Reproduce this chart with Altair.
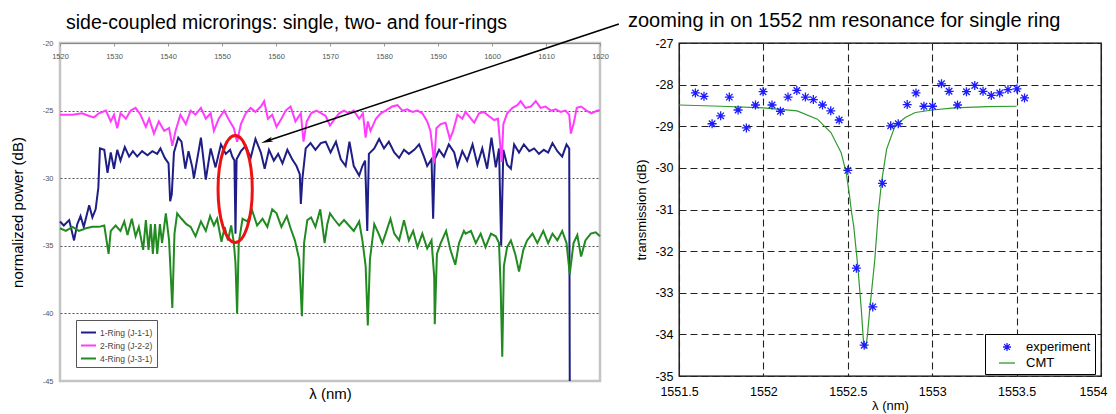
import altair as alt
import pandas as pd

# ---------------- left panel: transmission spectra ----------------
ring_names = ["1-Ring (J-1-1)", "2-Ring (J-2-2)", "4-Ring (J-3-1)"]
ring_colors = ["#1e1e86", "#ff3cff", "#218a21"]

r1_wl = [1520, 1520.7, 1521.7, 1522.6, 1523.2, 1523.8, 1524.4, 1525.4, 1526.0, 1526.6, 1527.1, 1527.4,
         1528.2, 1528.8, 1529.4, 1530.0, 1530.6, 1531.2, 1532.0, 1532.8, 1533.5, 1534.3, 1535.2, 1536.2,
         1537.1, 1538.0, 1538.6, 1539.4, 1540.1, 1540.4, 1540.7, 1541.1, 1541.9, 1542.5, 1543.2, 1543.8,
         1544.5, 1544.8, 1546.1, 1547.0, 1547.9, 1548.8, 1549.8, 1550.7, 1551.5, 1551.9, 1552.3, 1552.5,
         1552.7, 1553.5, 1554.4, 1555.3, 1556.2, 1557.2, 1557.9, 1558.7, 1559.6, 1560.4, 1561.2, 1562.1,
         1563.0, 1563.8, 1564.4, 1564.6, 1564.9, 1565.5, 1566.4, 1567.3, 1568.3, 1569.2, 1570.1, 1571.1,
         1572.0, 1572.9, 1573.6, 1574.4, 1575.4, 1576.0, 1576.5, 1576.9, 1577.2, 1578.2, 1579.1, 1580.0,
         1580.9, 1581.9, 1582.8, 1583.7, 1584.6, 1585.6, 1586.5, 1587.4, 1588.0, 1588.8, 1589.1, 1589.4,
         1590.2, 1591.1, 1592.0, 1593.0, 1593.6, 1594.5, 1595.4, 1596.4, 1597.3, 1598.2, 1599.1, 1599.9,
         1600.7, 1601.3, 1601.7, 1602.1, 1602.8, 1603.5, 1604.1, 1605.0, 1605.9, 1606.9, 1607.8, 1608.7,
         1609.6, 1610.4, 1611.2, 1612.1, 1613.0, 1613.8, 1614.3, 1614.4]
r1_db = [-33.2, -33.5, -33.1, -34.6, -33.4, -32.8, -33.6, -32.0, -32.9, -32.3, -30.7, -27.8,
         -27.9, -29.6, -28.1, -29.3, -27.9, -28.7, -27.7, -28.4, -28.0, -28.4, -28.0, -28.3,
         -28.0, -28.2, -27.8, -28.5, -28.9, -31.7, -31.2, -28.1, -27.0, -27.3, -29.3, -28.0,
         -29.2, -30.0, -27.0, -30.1, -27.8, -29.2, -27.5, -28.2, -27.9, -28.4, -28.7, -34.1,
         -28.6, -28.0, -27.6, -28.5, -27.1, -28.1, -29.3, -27.9, -28.7, -28.2, -28.9, -27.9,
         -28.6, -29.1, -29.7, -31.9, -30.0, -27.8, -27.4, -27.9, -27.4, -27.3, -28.1, -27.3,
         -28.6, -29.1, -27.3, -29.1, -29.8, -29.1, -28.7, -33.9, -28.2, -27.8, -27.1, -27.8,
         -27.3, -28.1, -28.5, -27.9, -28.2, -27.9, -27.5, -28.4, -29.1, -28.6, -33.0, -28.6,
         -27.9, -28.4, -27.5, -28.1, -29.1, -28.0, -28.7, -27.5, -29.0, -27.8, -29.3, -27.0,
         -29.2, -27.8, -35.0, -27.9, -29.0, -29.3, -27.5, -28.1, -27.5, -28.0, -27.8, -28.2,
         -27.9, -28.1, -27.4, -28.0, -28.4, -27.5, -27.8, -45.0]

r2_wl = [1520, 1522.3, 1524.1, 1525.4, 1526.3, 1527.2, 1528.5, 1529.4, 1530.0, 1530.6, 1531.2, 1532.2,
         1533.1, 1534.0, 1534.9, 1535.9, 1536.5, 1537.4, 1538.3, 1539.3, 1540.2, 1540.8, 1541.4, 1542.3,
         1543.3, 1544.2, 1545.1, 1546.1, 1547.0, 1547.9, 1548.5, 1549.4, 1550.4, 1551.3, 1552.2, 1552.8,
         1553.5, 1554.4, 1555.3, 1556.2, 1557.2, 1557.8, 1558.5, 1559.3, 1560.1, 1561.0, 1561.8, 1562.7,
         1563.6, 1564.6, 1565.1, 1565.7, 1566.5, 1567.5, 1568.4, 1569.2, 1570.0, 1570.7, 1571.7, 1572.6,
         1573.5, 1574.4, 1575.4, 1576.1, 1576.6, 1577.0, 1577.5, 1578.5, 1579.4, 1580.3, 1581.5, 1582.5,
         1583.4, 1584.3, 1585.3, 1586.2, 1587.1, 1588.0, 1588.6, 1589.3, 1589.7, 1590.5, 1591.4, 1592.2,
         1592.8, 1593.6, 1594.5, 1595.1, 1596.1, 1596.7, 1597.6, 1598.5, 1599.4, 1600.4, 1601.1, 1601.8,
         1602.1, 1602.8, 1603.8, 1604.7, 1605.3, 1606.2, 1607.2, 1608.1, 1609.0, 1609.9, 1610.9, 1611.8,
         1612.7, 1613.6, 1614.3, 1614.6, 1615.1, 1615.7, 1616.5, 1617.5, 1618.4, 1619.5, 1620]
r2_db = [-25.3, -25.3, -25.2, -25.4, -25.5, -25.2, -25.0, -25.8, -25.3, -26.3, -25.2, -25.6,
         -25.0, -24.8, -25.3, -26.2, -25.6, -26.7, -25.8, -26.5, -26.3, -27.6, -26.5, -25.3,
         -26.0, -25.0, -25.3, -24.8, -25.6, -25.2, -26.5, -25.6, -25.0, -25.7, -26.3, -27.3,
         -26.0, -25.2, -24.8, -25.1, -24.7, -24.3, -25.6, -25.3, -26.2, -25.6, -25.0, -24.7,
         -25.8, -25.2, -27.3, -25.8, -25.2, -25.0, -25.2, -25.4, -26.1, -25.7, -25.2, -25.0,
         -25.2, -25.0, -25.6, -25.2, -27.0, -25.8, -26.5, -25.6, -25.2, -25.0, -24.7, -24.6,
         -25.0, -24.9, -25.1, -25.0, -25.2, -25.8, -26.5, -28.9, -26.3, -26.0, -25.9, -27.1,
         -26.5, -25.3, -25.6, -25.1, -25.6, -25.9, -25.2, -25.1, -25.4, -25.7, -25.6, -28.8,
         -26.0, -25.2, -24.8, -24.6, -24.3, -24.8, -24.7, -24.3, -24.8, -24.7, -25.0, -24.9,
         -25.1, -25.0, -25.3, -26.7, -26.0, -24.8, -24.7, -25.0, -25.2, -25.0, -25.0]

r4_wl = [1520, 1521.1, 1522.3, 1523.5, 1524.8, 1526.0, 1527.2, 1528.2, 1529.0, 1529.4, 1530.3, 1531.2,
         1531.9, 1532.5, 1533.3, 1534.0, 1534.6, 1535.4, 1535.9, 1536.4, 1536.8, 1537.2, 1537.6, 1538.0,
         1538.5, 1538.9, 1539.6, 1540.2, 1540.8, 1541.2, 1541.7, 1542.5, 1543.4, 1544.2, 1545.1, 1546.1,
         1547.0, 1547.8, 1548.5, 1549.1, 1549.9, 1550.5, 1551.1, 1551.7, 1552.2, 1552.5, 1552.8, 1553.1,
         1553.8, 1554.7, 1555.6, 1556.5, 1557.5, 1558.4, 1559.3, 1560.1, 1561.0, 1562.0, 1562.7, 1563.5,
         1564.3, 1564.8, 1565.2, 1565.8, 1566.5, 1567.3, 1568.2, 1569.0, 1569.5, 1570.0, 1570.7, 1571.7,
         1572.6, 1573.5, 1574.4, 1575.4, 1576.0, 1576.6, 1577.0, 1577.4, 1578.2, 1579.0, 1579.7, 1580.3,
         1581.2, 1581.9, 1582.8, 1583.7, 1584.6, 1585.4, 1586.2, 1587.1, 1588.0, 1588.8, 1589.3, 1589.4,
         1589.8, 1590.5, 1591.5, 1592.3, 1593.2, 1593.9, 1594.8, 1595.1, 1596.1, 1597.0, 1597.9, 1598.8,
         1599.8, 1600.7, 1601.3, 1601.6, 1601.9, 1602.2, 1602.8, 1603.5, 1604.3, 1605.0, 1605.8, 1606.5,
         1607.5, 1608.4, 1609.5, 1610.4, 1611.2, 1612.1, 1613.0, 1613.8, 1614.4, 1615.1, 1615.8, 1616.5,
         1617.3, 1618.3, 1619.2, 1620]
r4_db = [-33.7, -33.9, -33.6, -33.9, -33.7, -33.6, -33.6, -33.5, -35.6, -33.9, -33.5, -33.9,
         -33.2, -34.2, -33.0, -34.3, -33.6, -35.3, -33.1, -35.3, -33.4, -35.6, -33.4, -35.6,
         -33.4, -34.8, -32.6, -34.6, -39.6, -34.1, -32.6, -33.0, -33.4, -33.6, -34.3, -33.2,
         -33.9, -32.8, -33.5, -33.0, -34.7, -33.6, -34.6, -33.5, -34.8, -36.3, -40.0, -34.8,
         -33.0, -33.2, -32.4, -33.5, -33.0, -33.6, -32.3, -32.6, -33.6, -32.8, -33.7, -34.6,
         -36.0, -40.2, -34.8, -33.1, -32.9, -33.6, -32.3, -34.8, -33.4, -32.6, -33.0, -33.5,
         -33.1, -33.5, -33.9, -33.2, -34.6, -36.5, -40.9, -36.0, -33.4, -34.1, -34.8, -34.1,
         -33.0, -34.1, -34.6, -33.1, -34.6, -33.9, -35.1, -34.1, -35.2, -34.6, -37.3, -40.8,
         -35.6, -34.8, -33.9, -35.3, -36.4, -34.8, -33.9, -34.1, -33.9, -34.8, -34.1, -35.1,
         -34.1, -34.3, -34.8, -38.0, -43.2, -36.5, -35.1, -34.6, -35.6, -36.9, -35.3, -34.6,
         -34.1, -34.8, -33.9, -34.8, -34.1, -34.6, -33.9, -34.8, -37.1, -34.8, -34.2, -35.8,
         -34.6, -34.1, -34.0, -34.3]

# annotations (data coordinates of the left panel)
ellipse_wl = [1552.44]
ellipse_db = [-30.8]
arrow_from_wl = [1623.5]
arrow_from_db = [-18.6]
arrow_to_wl = [1558.3]
arrow_to_db = [-27.25]

# ---------------- right panel: zoom on 1552 nm resonance ----------------
exp_wl = [1551.597, 1551.648, 1551.696, 1551.747, 1551.798, 1551.850, 1551.899, 1551.953, 1551.998, 1552.051,
          1552.101, 1552.146, 1552.198, 1552.249, 1552.296, 1552.350, 1552.399, 1552.449, 1552.500, 1552.551,
          1552.597, 1552.648, 1552.705, 1552.754, 1552.799, 1552.852, 1552.904, 1552.951, 1553.002, 1553.055,
          1553.100, 1553.150, 1553.203, 1553.252, 1553.301, 1553.350, 1553.400, 1553.449, 1553.502, 1553.547]
exp_db = [-28.20, -28.28, -28.94, -28.75, -28.30, -28.61, -29.04, -28.49, -28.17, -28.49,
          -28.64, -28.30, -28.14, -28.30, -28.36, -28.49, -28.63, -28.85, -30.06, -32.41,
          -34.26, -33.34, -30.37, -28.99, -28.94, -28.48, -28.20, -28.52, -28.52, -27.98,
          -28.16, -28.49, -28.17, -28.02, -28.16, -28.26, -28.20, -28.12, -28.10, -28.32]

cmt_wl = [1551.5, 1551.75, 1552.0, 1552.2, 1552.32, 1552.40, 1552.46, 1552.49, 1552.51, 1552.52,
          1552.535, 1552.56, 1552.58, 1552.595, 1552.607, 1552.617, 1552.63, 1552.66, 1552.681, 1552.70,
          1552.73, 1552.78, 1552.84, 1552.90, 1553.0, 1553.13, 1553.33, 1553.5]
cmt_db = [-28.49, -28.52, -28.56, -28.63, -28.83, -29.15, -29.63, -30.10, -30.66, -31.0,
          -31.4, -32.4, -33.4, -34.3, -34.33, -34.0, -33.4, -32.2, -31.06, -30.34,
          -29.55, -28.99, -28.79, -28.67, -28.61, -28.56, -28.53, -28.52]

series_names = ["experiment", "CMT"]
series_colors = ["#1c1cff", "#2e9a2e"]

# ---------------- tables ----------------
rows = []
for name, wls, dbs in zip(ring_names, [r1_wl, r2_wl, r4_wl], [r1_db, r2_db, r4_db]):
    for i, (w, d) in enumerate(zip(wls, dbs)):
        rows.append({"ring": name, "wl": w, "db": d, "idx": i})
spectra = pd.DataFrame(rows)
ellipse_df = pd.DataFrame({"wl": ellipse_wl, "db": ellipse_db})
arrow_df = pd.DataFrame({"wl": arrow_from_wl, "db": arrow_from_db, "wl2": arrow_to_wl, "db2": arrow_to_db})
head_df = pd.DataFrame({"wl": arrow_to_wl, "db": arrow_to_db})
exp_df = pd.DataFrame({"wl": exp_wl, "db": exp_db, "series": "experiment"})
cmt_df = pd.DataFrame({"wl": cmt_wl, "db": cmt_db, "series": "CMT"})

FONT = "Liberation Sans"
LW, LH = 540, 338
RW, RH = 422, 333

STAR = "M-0.5,0L0.5,0M0,-0.5L0,0.5M-0.36,-0.36L0.36,0.36M-0.36,0.36L0.36,-0.36"
ELLIPSE = "M0,-1A0.32,1,0,1,1,0,1A0.32,1,0,1,1,0,-1Z"
ARROW = "M0,-1L0.4,1L0,0.55L-0.4,1Z"

xL = alt.X("wl:Q", scale=alt.Scale(domain=[1520, 1620], nice=False, zero=False),
           axis=alt.Axis(orient="bottom", offset=-LH, values=list(range(1520, 1621, 10)),
                         labelExpr="toString(datum.value)", tickSize=3, tickColor="#999",
                         domain=True, domainColor="#8a8a8a", domainWidth=1, grid=False,
                         labelFontSize=7.5, labelColor="#555",
                         labelPadding=6, labelFlush=False, title="λ (nm)", titleFontSize=15,
                         titleFontWeight="normal", titleY=LH + 12, titleBaseline="middle"))
yL = alt.Y("db:Q", scale=alt.Scale(domain=[-45, -20], nice=False, zero=False),
           axis=alt.Axis(values=[-45, -40, -35, -30, -25, -20], labelExpr="toString(datum.value)",
                         tickSize=0, domain=False, labelFontSize=7.5, labelColor="#555",
                         labelPadding=7, grid=True, gridDash=[2, 2], gridColor="#555",
                         gridOpacity={"condition": {"test": "datum.value == -20 || datum.value == -45",
                                                    "value": 0}, "value": 1},
                         title="normalized power (dB)", titleFontSize=15, titleFontWeight="normal",
                         titlePadding=17))

lines = alt.Chart(spectra).mark_line(interpolate="linear").encode(
    x=xL, y=yL,
    color=alt.Color("ring:N", scale=alt.Scale(domain=ring_names, range=ring_colors),
                    legend=alt.Legend(title=None, orient="none", legendX=16, legendY=277,
                                      symbolType="stroke", symbolSize=225, symbolStrokeWidth=1.5,
                                      labelFontSize=8.5, labelColor="#444", strokeColor="#555",
                                      fillColor="white", padding=4, rowPadding=0, labelOffset=3)),
    strokeWidth=alt.StrokeWidth("ring:N", scale=alt.Scale(domain=ring_names, range=[2, 2, 1.4]), legend=None),
    order="idx:Q",
)
ellipse = alt.Chart(ellipse_df).mark_point(shape=ELLIPSE, filled=False, color="#ee1111",
                                           strokeWidth=3, size=11449, opacity=1).encode(x=xL, y=yL)
arrow = alt.Chart(arrow_df).mark_rule(color="black", strokeWidth=1.5).encode(
    x=xL, y=yL, x2="wl2:Q", y2="db2:Q")
head = alt.Chart(head_df).mark_point(shape=ARROW, filled=True, color="black", size=144,
                                     angle=251.6, opacity=1).encode(x=xL, y=yL)

left = alt.layer(lines, ellipse, arrow, head).properties(
    width=LW, height=LH,
    view=alt.ViewBackground(stroke="#c4c4c4", strokeWidth=2.5),
    title=alt.Title("side-coupled microrings: single, two- and four-rings", anchor="start",
                    frame="group", fontSize=19.5, fontWeight="normal", font=FONT, dx=6, offset=-10),
)

xR = alt.X("wl:Q", scale=alt.Scale(domain=[1551.5, 1554], nice=False, zero=False),
           axis=alt.Axis(values=[1551.5, 1552, 1552.5, 1553, 1553.5, 1554],
                         labelExpr="toString(datum.value)", tickSize=0, domain=False,
                         labelFontSize=12.5, labelColor="black", labelPadding=9, labelFlush=False,
                         labelOffset={"condition": {"test": "datum.value == 1554", "value": -8},
                                      "value": 0},
                         grid=True, gridDash=[7, 4], gridColor="#222", gridWidth=1.1,
                         title="λ (nm)", titleFontSize=13, titleFontWeight="normal", titlePadding=2))
yR = alt.Y("db:Q", scale=alt.Scale(domain=[-35, -27], nice=False, zero=False),
           axis=alt.Axis(values=[-35, -34, -33, -32, -31, -30, -29, -28, -27],
                         labelExpr="toString(datum.value)", tickSize=0, domain=False,
                         labelFontSize=12.5, labelColor="black", labelPadding=6,
                         grid=True, gridDash=[7, 4], gridColor="#222", gridWidth=1.1,
                         title="transmission (dB)", titleFontSize=13, titleFontWeight="normal",
                         titlePadding=6))

leg = alt.Legend(title=None, orient="none", legendX=306, legendY=291, strokeColor="black",
                 fillColor="white", padding=4, rowPadding=0, labelFontSize=13, labelColor="black",
                 symbolSize=256, symbolStrokeWidth=1.3, labelOffset=10, symbolOffset=9)
cR = alt.Color("series:N", scale=alt.Scale(domain=series_names, range=series_colors), legend=leg)
sR = alt.Shape("series:N", scale=alt.Scale(domain=series_names, range=[STAR, "stroke"]), legend=leg)

pts = alt.Chart(exp_df).mark_point(filled=False, size=324, strokeWidth=1.3, opacity=1).encode(
    x=xR, y=yR, color=cR, shape=sR)
fit = alt.Chart(cmt_df).mark_line(strokeWidth=1.2).encode(x=xR, y=yR, color=cR)

right = alt.layer(fit, pts).properties(
    width=RW, height=RH,
    view=alt.ViewBackground(stroke="black", strokeWidth=1.3),
    title=alt.Title("zooming in on 1552 nm resonance for single ring", anchor="start",
                    frame="group", fontSize=20, fontWeight="normal", font=FONT, dx=-51, offset=6),
)

chart = alt.hconcat(left, right, spacing=79, bounds="flush").resolve_scale(
    color="independent", shape="independent", strokeWidth="independent"
).resolve_legend(color="independent", shape="independent").properties(
    padding={"left": 0, "top": 2, "right": 0, "bottom": 0}
).configure(font=FONT).configure_legend(labelFont=FONT)

chart.save("out.html", embed_options={"renderer": "svg", "actions": False})
